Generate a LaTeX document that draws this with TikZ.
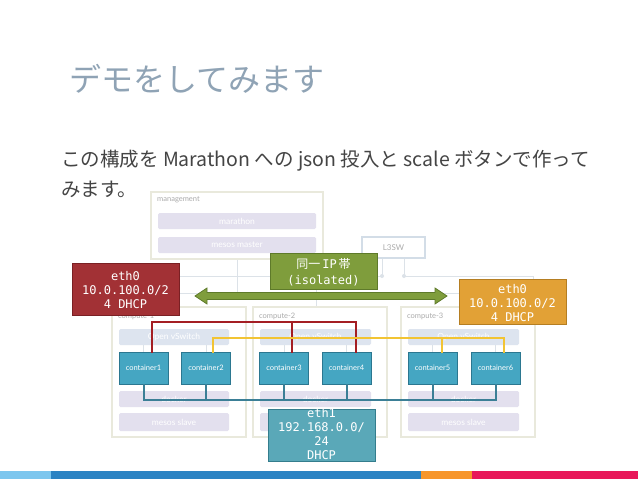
\documentclass[tikz,border=0pt]{standalone}
\usepackage{fontspec}
\setmainfont{Lato}
\newfontfamily\cjk{Noto Sans CJK JP}
\newfontfamily\monof{DejaVu Sans Mono}
\usetikzlibrary{calc}
\definecolor{titlec}{HTML}{8FA3B5}
\definecolor{bodyc}{HTML}{444444}
\definecolor{faintc}{HTML}{DCE2E8}
\definecolor{boxc}{HTML}{E9E9DC}
\definecolor{lavc}{HTML}{E3E0EE}
\definecolor{ovsc}{HTML}{DDE4EF}
\definecolor{l3c}{HTML}{D3DDE7}
\definecolor{lblc}{HTML}{ABABAB}
\definecolor{contf}{HTML}{45A6C2}
\definecolor{contd}{HTML}{2B7790}
\definecolor{redf}{HTML}{A23135}
\definecolor{redd}{HTML}{7A2024}
\definecolor{greenf}{HTML}{7F9D3C}
\definecolor{greend}{HTML}{5E7A2A}
\definecolor{orangef}{HTML}{E2A136}
\definecolor{oranged}{HTML}{B57E22}
\definecolor{bluef}{HTML}{5AA8B8}
\definecolor{blued}{HTML}{347D8D}
\definecolor{redl}{HTML}{A41E23}
\definecolor{yell}{HTML}{F2C433}
\definecolor{bluel}{HTML}{3B7F96}
\definecolor{barA}{HTML}{7CC6EE}
\definecolor{barB}{HTML}{2B83C3}
\definecolor{barC}{HTML}{F7962B}
\definecolor{barD}{HTML}{E8185A}
\begin{document}
\begin{tikzpicture}[x=1pt,y=-1pt,
  faint/.style={draw=faintc, line width=1pt},
  frame/.style={draw=boxc, line width=1.2pt, fill=white, inner sep=0pt},
  bar/.style={fill=#1, rounded corners=1.5pt, inner sep=0pt, text=white, font=\fontsize{8.5}{10}\selectfont},
  smalllbl/.style={text=lblc, inner sep=0pt, font=\fontsize{7.5}{9}\selectfont},
  cont/.style={fill=contf, draw=contd, line width=1pt, minimum width=49pt, minimum height=32pt, inner sep=0pt, text=white, font=\fontsize{7.5}{9}\selectfont},
  callout/.style={fill=#1f, draw=#1d, line width=1pt, inner sep=0pt, minimum width=107pt},
  ctext/.style={text=white, align=center, inner sep=0pt, font=\monof\fontsize{12}{14.2}\selectfont},
  redwire/.style={draw=redl, line width=2pt, line cap=rect},
  yelwire/.style={draw=yell, line width=2pt, line cap=rect},
  bluewire/.style={draw=bluel, line width=2pt, line cap=rect}]
\useasboundingbox (0,0) rectangle (638,479);
\fill[white] (0,0) rectangle (638,479);

% title and body text
\node[anchor=base west, inner sep=0pt, text=titlec, font=\cjk\fontsize{32}{38}\selectfont] (title) at (69,91) {デモをしてみます};
\node[anchor=base west, inner sep=0pt, text=bodyc, font=\cjk\fontsize{19.5}{24}\selectfont] (body1) at (61,166) {この構成を Marathon への json 投入と scale ボタンで作って};
\node[anchor=base west, inner sep=0pt, text=bodyc, font=\cjk\fontsize{19.5}{24}\selectfont] (body2) at (61,196) {みます。};

% faint network lines
\draw[faint] (111,276) -- (382,276);
\draw[faint] (404,276) -- (533,276) -- (533,293);
\draw[faint] (111,293) -- (533,293);
\draw[faint] (382,258) -- (382,276);
\draw[faint] (404,258) -- (404,276);
\fill[faintc] (382,276) circle (2pt) (404,276) circle (2pt);
\draw[faint] (237,259) -- (237,293);
\draw[faint] (175,293) -- (175,329);
\draw[faint] (316,276) -- (316,329);
\draw[faint] (463,293) -- (463,329);

% management and L3SW
\node[frame, minimum width=172pt, minimum height=67pt] (mgmt) at (237,225.5) {};
\node[smalllbl, anchor=west] (mgmtl) at (157,200) {management};
\node[bar=lavc, minimum width=158pt, minimum height=16pt] (marathon) at (237,221) {marathon};
\node[bar=lavc, minimum width=158pt, minimum height=16pt] (master) at (237,245) {mesos master};
\node[draw=l3c, line width=1.2pt, fill=white, minimum width=63pt, minimum height=21pt, inner sep=0pt, text=lblc, font=\fontsize{8}{9}\selectfont] (l3sw) at (393.5,247.5) {L3SW};

% compute boxes
\node[frame, minimum width=134pt, minimum height=130pt] (comp1) at (179,372) {};
\node[frame, minimum width=134pt, minimum height=130pt] (comp2) at (320,372) {};
\node[frame, minimum width=134pt, minimum height=130pt] (comp3) at (468,372) {};
\node[smalllbl, anchor=west] (comp1l) at (118,316) {compute-1};
\node[smalllbl, anchor=west] (comp2l) at (259,316) {compute-2};
\node[smalllbl, anchor=west] (comp3l) at (407,316) {compute-3};

\node[bar=ovsc, minimum width=110pt, minimum height=16pt] (ovs1) at (174,337) {Open vSwitch};
\node[bar=ovsc, minimum width=111pt, minimum height=16pt] (ovs2) at (315.5,337) {Open vSwitch};
\node[bar=ovsc, minimum width=111pt, minimum height=16pt] (ovs3) at (463.5,337) {Open vSwitch};
\node[bar=lavc, minimum width=110pt, minimum height=16pt] (dock1) at (174,399) {docker};
\node[bar=lavc, minimum width=111pt, minimum height=16pt] (dock2) at (315.5,399) {docker};
\node[bar=lavc, minimum width=111pt, minimum height=16pt] (dock3) at (463.5,399) {docker};
\node[bar=lavc, minimum width=110pt, minimum height=18pt] (slave1) at (174,422) {mesos slave};
\node[bar=lavc, minimum width=111pt, minimum height=18pt] (slave2) at (315.5,422) {};
\node[bar=lavc, minimum width=111pt, minimum height=18pt] (slave3) at (463.5,422) {mesos slave};

% containers
\node[cont] (c1) at (143.5,368) {container1};
\node[cont] (c2) at (206,368) {container2};
\node[cont] (c3) at (284,368) {container3};
\node[cont] (c4) at (346.5,368) {container4};
\node[cont] (c5) at (432.5,368) {container5};
\node[cont] (c6) at (495.5,368) {container6};

% faint ovs-container stubs
\draw[faint] (c1.north) -- (c1.north |- ovs1.south);
\draw[faint] (c2.north) -- (c2.north |- ovs1.south);
\draw[faint] (c3.north) -- (c3.north |- ovs2.south);
\draw[faint] (c4.north) -- (c4.north |- ovs2.south);
\draw[faint] (c5.north) -- (c5.north |- ovs3.south);
\draw[faint] (c6.north) -- (c6.north |- ovs3.south);

% wire corner points
\coordinate (r1) at ($(c1.north)+(8,-30)$);
\coordinate (r3) at ($(c3.north)+(8,-30)$);
\coordinate (r4) at ($(c4.north)+(9,-30)$);
\coordinate (y2) at ($(c2.north)+(7,-14)$);
\coordinate (y5) at ($(c5.north)+(9,-14)$);
\coordinate (y6) at ($(c6.north)+(8,-14)$);
\coordinate (b1) at ($(c1.south)+(0,15)$);
\coordinate (b6) at ($(c6.south)+(0,15)$);

% red wire (eth0, left net)
\draw[redwire] (r1) -- (r4);
\draw[redwire] (r1) -- (r1 |- c1.north);
\draw[redwire] (r3) -- (r3 |- c3.north);
\draw[redwire] (r4) -- (r4 |- c4.north);
% yellow wire (eth0, right net)
\draw[yelwire] (y2) -- (y6);
\draw[yelwire] (y2) -- (y2 |- c2.north);
\draw[yelwire] (y5) -- (y5 |- c5.north);
\draw[yelwire] (y6) -- (y6 |- c6.north);
% blue wire (eth1)
\draw[bluewire] (b1) -- (b6);
\draw[bluewire] (c1.south) -- (b1);
\draw[bluewire] (c2.south) -- (c2.south |- b1);
\draw[bluewire] (c3.south) -- (c3.south |- b1);
\draw[bluewire] (c4.south) -- (c4.south |- b1);
\draw[bluewire] (c5.south) -- (c5.south |- b1);
\draw[bluewire] (c6.south) -- (b6);

% green double arrow
\filldraw[fill=greenf, draw=greend, line width=0.8pt]
  (195,296) -- (207,288) -- (207,292.5) -- (435,292.5) -- (435,288) -- (447,296)
  -- (435,304) -- (435,299.5) -- (207,299.5) -- (207,304) -- cycle;

% callouts
\node[callout=red, minimum height=52pt] (eth0a) at (125.5,289) {};
\node[ctext] (eth0at) at (125.5,290) {eth0\\10.0.100.0/2\\4 DHCP};
\node[callout=green, minimum height=36pt] (same) at (323.5,271) {};
\node[ctext, font=\monof\fontsize{12}{16.5}\selectfont] (samet) at (323.5,272) {{\cjk 同一}\,IP\,{\cjk 帯}\\(isolated)};
\node[callout=orange, minimum height=45pt] (eth0b) at (512.5,301.5) {};
\node[ctext] (eth0bt) at (512.5,303) {eth0\\10.0.100.0/2\\4 DHCP};
\node[callout=blue, minimum height=52pt] (eth1) at (321.5,435) {};
\begin{scope}
\clip (0,0) rectangle (638,461.5);
\node[ctext] (eth1t) at (321.5,434) {eth1\\192.168.0.0/\\24\\DHCP};
\end{scope}

% bottom bar
\fill[barA] (0,471) rectangle (51,479);
\fill[barB] (51,471) rectangle (421,479);
\fill[barC] (421,471) rectangle (472,479);
\fill[barD] (472,471) rectangle (638,479);
\end{tikzpicture}
\end{document}
